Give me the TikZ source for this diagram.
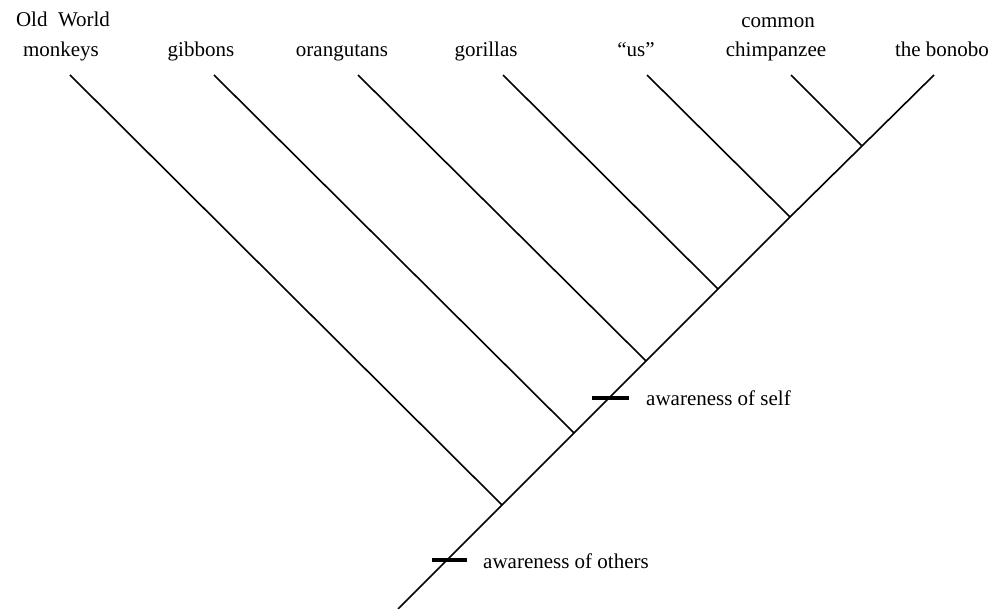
\documentclass[tikz,border=0pt]{standalone}
\usepackage{fontspec}
\setmainfont{Liberation Serif}
\begin{document}
\begin{tikzpicture}[x=1pt,y=-1pt,
  branch/.style={line width=1.6pt,line cap=butt},
  tick/.style={line width=3.5pt},
  lbl/.style={font=\fontsize{21}{25}\selectfont,inner sep=0pt,anchor=base},
  note/.style={font=\fontsize{21}{25}\selectfont,inner sep=0pt,anchor=base west}]
\useasboundingbox (0,0) rectangle (1003,609);
% leaf tips
\coordinate (tmonk) at (70,75);
\coordinate (tgibb) at (214,75);
\coordinate (torang) at (358,75);
\coordinate (tgor) at (503,75);
\coordinate (tus) at (647,75);
\coordinate (tchimp) at (791,75);
\coordinate (tbon) at (934,75);
% junctions on the trunk
\coordinate (root) at (398,609);
\coordinate (jmonk) at (502,505);
\coordinate (jgibb) at (574,433);
\coordinate (jorang) at (646,361);
\coordinate (jgor) at (718,289);
\coordinate (jus) at (790,217);
\coordinate (jchimp) at (862,146);
% trunk
\draw[branch] (root) -- (jmonk) -- (jgibb) -- (jorang) -- (jgor) -- (jus) -- (jchimp) -- (tbon);
% side branches
\draw[branch] (tmonk) -- (jmonk);
\draw[branch] (tgibb) -- (jgibb);
\draw[branch] (torang) -- (jorang);
\draw[branch] (tgor) -- (jgor);
\draw[branch] (tus) -- (jus);
\draw[branch] (tchimp) -- (jchimp);
% ticks
\coordinate (kothersL) at (432,560);
\coordinate (kothersR) at (467,560);
\coordinate (kselfL) at (592,398);
\coordinate (kselfR) at (629,398);
\draw[tick] (kothersL) -- (kothersR);
\draw[tick] (kselfL) -- (kselfR);
\node[note] (nothers) at (483,568) {awareness of others};
\node[note] (nself) at (646,405) {awareness of self};
% labels
\node[lbl] (lmonkA) at (63,27) {Old\ \ World};
\node[lbl] (lmonkB) at (61,57) {monkeys};
\node[lbl] (lgibb) at (201,57) {gibbons};
\node[lbl] (lorang) at (342,57) {orangutans};
\node[lbl] (lgor) at (486,57) {gorillas};
\node[lbl] (lus) at (636,57) {``us''};
\node[lbl] (lchimpA) at (778,28) {common};
\node[lbl] (lchimpB) at (776,57) {chimpanzee};
\node[lbl] (lbon) at (942,57) {the bonobo};
\end{tikzpicture}
\end{document}
